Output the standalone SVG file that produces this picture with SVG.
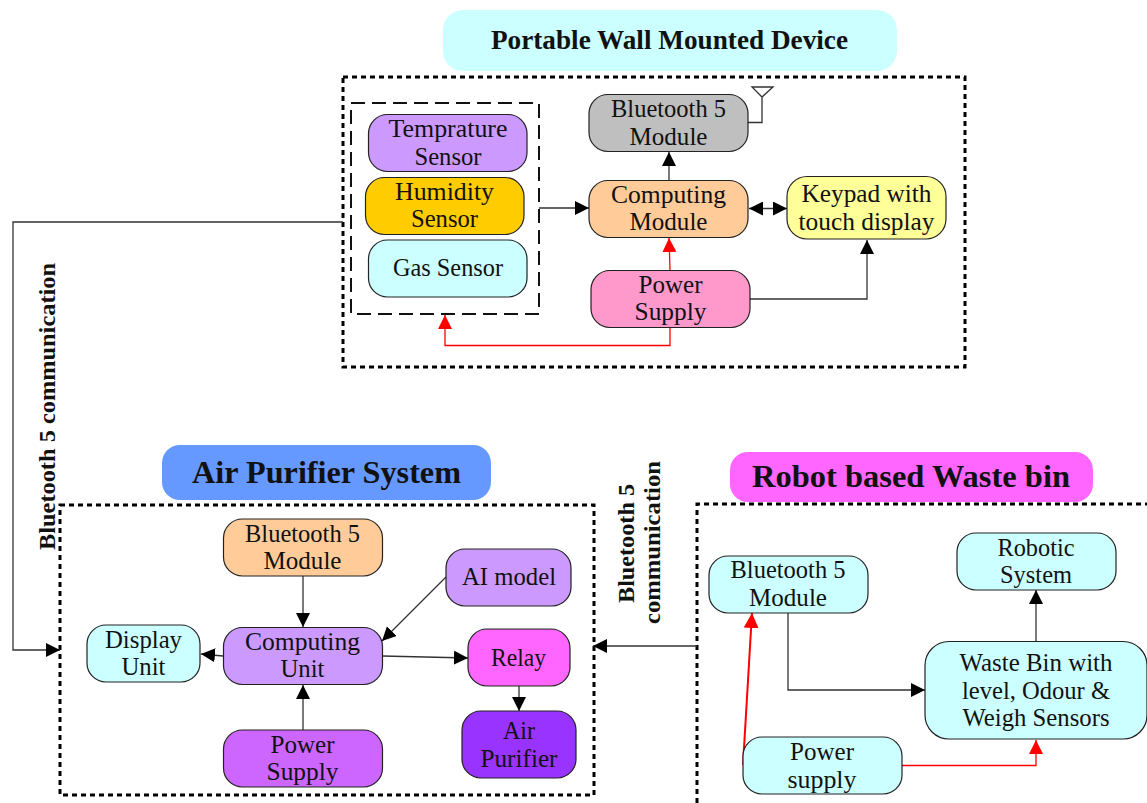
<svg xmlns="http://www.w3.org/2000/svg" width="1147" height="803" viewBox="0 0 1147 803">
<style>
text{font-family:"Liberation Serif","Times New Roman",serif;fill:#111;text-anchor:middle}
.n{font-size:25px}
.t{font-weight:700}
.b{stroke:#222;stroke-width:1.2}
.c{fill:none;stroke:#333;stroke-width:1.3}
.r{fill:none;stroke:#f00;stroke-width:1.3}
.k{marker-end:url(#ak)}
.rr{marker-end:url(#ar)}
.dot{fill:none;stroke:#000;stroke-width:3;stroke-dasharray:5 4}
</style>
<defs>
<marker id="ak" markerUnits="userSpaceOnUse" markerWidth="15" markerHeight="15" refX="14" refY="7" orient="auto"><path d="M0 0L14 7L0 14z" fill="#000"/></marker>
<marker id="aks" markerUnits="userSpaceOnUse" markerWidth="15" markerHeight="15" refX="0" refY="7" orient="auto"><path d="M14 0L0 7L14 14z" fill="#000"/></marker>
<marker id="ar" markerUnits="userSpaceOnUse" markerWidth="15" markerHeight="15" refX="14" refY="7" orient="auto"><path d="M0 0L14 7L0 14z" fill="#f00"/></marker>
<marker id="arb" markerUnits="userSpaceOnUse" markerWidth="16" markerHeight="16" refX="15" refY="7.500" orient="auto"><path d="M0 0L15 7.500L0 15z" fill="#f00"/></marker>
</defs>
<rect width="1147" height="803" fill="#fff"/>
<g id="frames">
<rect class="dot" x="343" y="77" width="622" height="290"/>
<rect x="351" y="103" width="188" height="211" fill="none" stroke="#111" stroke-width="2" stroke-dasharray="14 7"/>
<rect class="dot" x="60" y="505" width="534" height="290"/>
<path class="dot" d="M697 803V504H1147"/>
</g>
<g id="connectors">
<path class="c" d="M343 222H13V650H60" marker-end="url(#ak)"/>
<path class="c k" d="M539 208H589"/>
<path class="c k" d="M669 180V152"/>
<path class="c" d="M749 208.500H787" marker-start="url(#aks)" marker-end="url(#ak)"/>
<path class="r rr" d="M670 270L669 238"/>
<path class="c k" d="M750 299H867V240"/>
<path class="r rr" d="M670 327V345.500H445V315"/>
<path class="c" d="M748 122.500H762V97M752 87H773L762 97z"/>
<path class="c k" d="M303 576V627"/>
<path class="c k" d="M223 656L201 654"/>
<path class="c k" d="M303 730V685"/>
<path class="c k" d="M446 577L382 641"/>
<path class="c k" d="M382 656L468 658"/>
<path class="c k" d="M519 686V711"/>
<path class="c k" d="M697 646H593"/>
<path class="c k" d="M788 612V690H925"/>
<path class="c k" d="M1036 641V590"/>
<path class="r rr" d="M902 765.500H1036V740"/>
<path class="r" d="M743 765L752 613" style="stroke-width:2" marker-end="url(#arb)"/>
</g>
<g id="title-portable"><rect x="443" y="10" width="454" height="61" rx="20" fill="#ccffff"/><text class="t" x="669.500" y="49" font-size="27" textLength="357" lengthAdjust="spacingAndGlyphs">Portable Wall Mounted Device</text></g>
<g id="title-air"><rect x="162" y="445" width="329" height="55" rx="18" fill="#6699ff"/><text class="t" x="326.500" y="483" font-size="32" textLength="269" lengthAdjust="spacingAndGlyphs">Air Purifier System</text></g>
<g id="title-robot"><rect x="730" y="452" width="363" height="50" rx="18" fill="#ff66ff"/><text class="t" x="911" y="487" font-size="32" textLength="318" lengthAdjust="spacingAndGlyphs">Robot based Waste bin</text></g>
<g id="temp"><rect class="b" x="368.500" y="114.500" width="158.500" height="57" rx="19" fill="#cc99ff"/><text class="n" x="448" y="137" textLength="119" lengthAdjust="spacingAndGlyphs">Temprature</text><text class="n" x="448" y="165" textLength="67" lengthAdjust="spacingAndGlyphs">Sensor</text></g>
<g id="humidity"><rect class="b" x="365.500" y="177.500" width="158.500" height="57" rx="19" fill="#ffcc00"/><text class="n" x="444.500" y="200" textLength="99" lengthAdjust="spacingAndGlyphs">Humidity</text><text class="n" x="444.500" y="227" textLength="67" lengthAdjust="spacingAndGlyphs">Sensor</text></g>
<g id="gas"><rect class="b" x="368.500" y="240" width="158.500" height="57" rx="19" fill="#ccffff"/><text class="n" x="448" y="276" textLength="110" lengthAdjust="spacingAndGlyphs">Gas Sensor</text></g>
<g id="bt-top"><rect class="b" x="589" y="94.500" width="159" height="57" rx="19" fill="#bfbfbf"/><text class="n" x="668.500" y="117" textLength="115" lengthAdjust="spacingAndGlyphs">Bluetooth 5</text><text class="n" x="668.500" y="145" textLength="78" lengthAdjust="spacingAndGlyphs">Module</text></g>
<g id="compute-top"><rect class="b" x="589" y="180.500" width="159" height="57" rx="19" fill="#ffcc99"/><text class="n" x="668.500" y="203" textLength="115" lengthAdjust="spacingAndGlyphs">Computing</text><text class="n" x="668.500" y="230" textLength="78" lengthAdjust="spacingAndGlyphs">Module</text></g>
<g id="keypad"><rect class="b" x="787" y="176.500" width="159" height="62.500" rx="20" fill="#ffff99"/><text class="n" x="866.500" y="202" textLength="130" lengthAdjust="spacingAndGlyphs">Keypad with</text><text class="n" x="866.500" y="230" textLength="136" lengthAdjust="spacingAndGlyphs">touch display</text></g>
<g id="power-top"><rect class="b" x="591" y="270.500" width="159" height="57" rx="19" fill="#ff99cc"/><text class="n" x="670.500" y="293" textLength="64" lengthAdjust="spacingAndGlyphs">Power</text><text class="n" x="670.500" y="320" textLength="72" lengthAdjust="spacingAndGlyphs">Supply</text></g>
<g id="bt-air"><rect class="b" x="223.500" y="519" width="159" height="57" rx="19" fill="#ffcc99"/><text class="n" x="302.500" y="542" textLength="115" lengthAdjust="spacingAndGlyphs">Bluetooth 5</text><text class="n" x="302.500" y="569" textLength="78" lengthAdjust="spacingAndGlyphs">Module</text></g>
<g id="ai"><rect class="b" x="446" y="549" width="125" height="57" rx="19" fill="#cc99ff"/><text class="n" x="509" y="585" textLength="94" lengthAdjust="spacingAndGlyphs">AI model</text></g>
<g id="display"><rect class="b" x="87" y="625" width="113" height="57" rx="19" fill="#ccffff"/><text class="n" x="143.500" y="648" textLength="77" lengthAdjust="spacingAndGlyphs">Display</text><text class="n" x="143.500" y="675" textLength="44" lengthAdjust="spacingAndGlyphs">Unit</text></g>
<g id="compute-air"><rect class="b" x="223.500" y="627.500" width="159" height="57" rx="19" fill="#cc99ff"/><text class="n" x="302.500" y="650" textLength="115" lengthAdjust="spacingAndGlyphs">Computing</text><text class="n" x="302.500" y="677" textLength="44" lengthAdjust="spacingAndGlyphs">Unit</text></g>
<g id="relay"><rect class="b" x="468" y="629" width="102" height="57" rx="19" fill="#ff66ff"/><text class="n" x="518.500" y="666" textLength="55" lengthAdjust="spacingAndGlyphs">Relay</text></g>
<g id="purifier"><rect class="b" x="462" y="711" width="114" height="67" rx="19" fill="#9933ff"/><text class="n" x="519" y="739" textLength="32" lengthAdjust="spacingAndGlyphs">Air</text><text class="n" x="519" y="767" textLength="77" lengthAdjust="spacingAndGlyphs">Purifier</text></g>
<g id="power-air"><rect class="b" x="223.500" y="730" width="159" height="57" rx="19" fill="#cc66ff"/><text class="n" x="302.500" y="753" textLength="64" lengthAdjust="spacingAndGlyphs">Power</text><text class="n" x="302.500" y="780" textLength="72" lengthAdjust="spacingAndGlyphs">Supply</text></g>
<g id="bt-robot"><rect class="b" x="709" y="556" width="159" height="57" rx="19" fill="#ccffff"/><text class="n" x="788" y="578" textLength="115" lengthAdjust="spacingAndGlyphs">Bluetooth 5</text><text class="n" x="788" y="606" textLength="78" lengthAdjust="spacingAndGlyphs">Module</text></g>
<g id="robotic"><rect class="b" x="957" y="533" width="159" height="57" rx="19" fill="#ccffff"/><text class="n" x="1036" y="556" textLength="77" lengthAdjust="spacingAndGlyphs">Robotic</text><text class="n" x="1036" y="583" textLength="72" lengthAdjust="spacingAndGlyphs">System</text></g>
<g id="waste"><rect class="b" x="925" y="641.500" width="222" height="97.500" rx="24" fill="#ccffff"/><text class="n" x="1036" y="671" textLength="153" lengthAdjust="spacingAndGlyphs">Waste Bin with</text><text class="n" x="1036" y="699" textLength="148" lengthAdjust="spacingAndGlyphs">level, Odour &amp;</text><text class="n" x="1036" y="726" textLength="147" lengthAdjust="spacingAndGlyphs">Weigh Sensors</text></g>
<g id="power-robot"><rect class="b" x="743" y="737" width="159" height="57" rx="19" fill="#ccffff"/><text class="n" x="822" y="760" textLength="64" lengthAdjust="spacingAndGlyphs">Power</text><text class="n" x="822" y="788" textLength="69" lengthAdjust="spacingAndGlyphs">supply</text></g>
<g id="labels">
<text class="t" font-size="24" transform="translate(55 406.500) rotate(-90)" textLength="287" lengthAdjust="spacingAndGlyphs">Bluetooth 5 communication</text>
<text class="t" font-size="24" transform="translate(634 543.500) rotate(-90)" textLength="119" lengthAdjust="spacingAndGlyphs">Bluetooth 5</text>
<text class="t" font-size="24" transform="translate(660 542.500) rotate(-90)" textLength="163" lengthAdjust="spacingAndGlyphs">communication</text>
</g>
</svg>
